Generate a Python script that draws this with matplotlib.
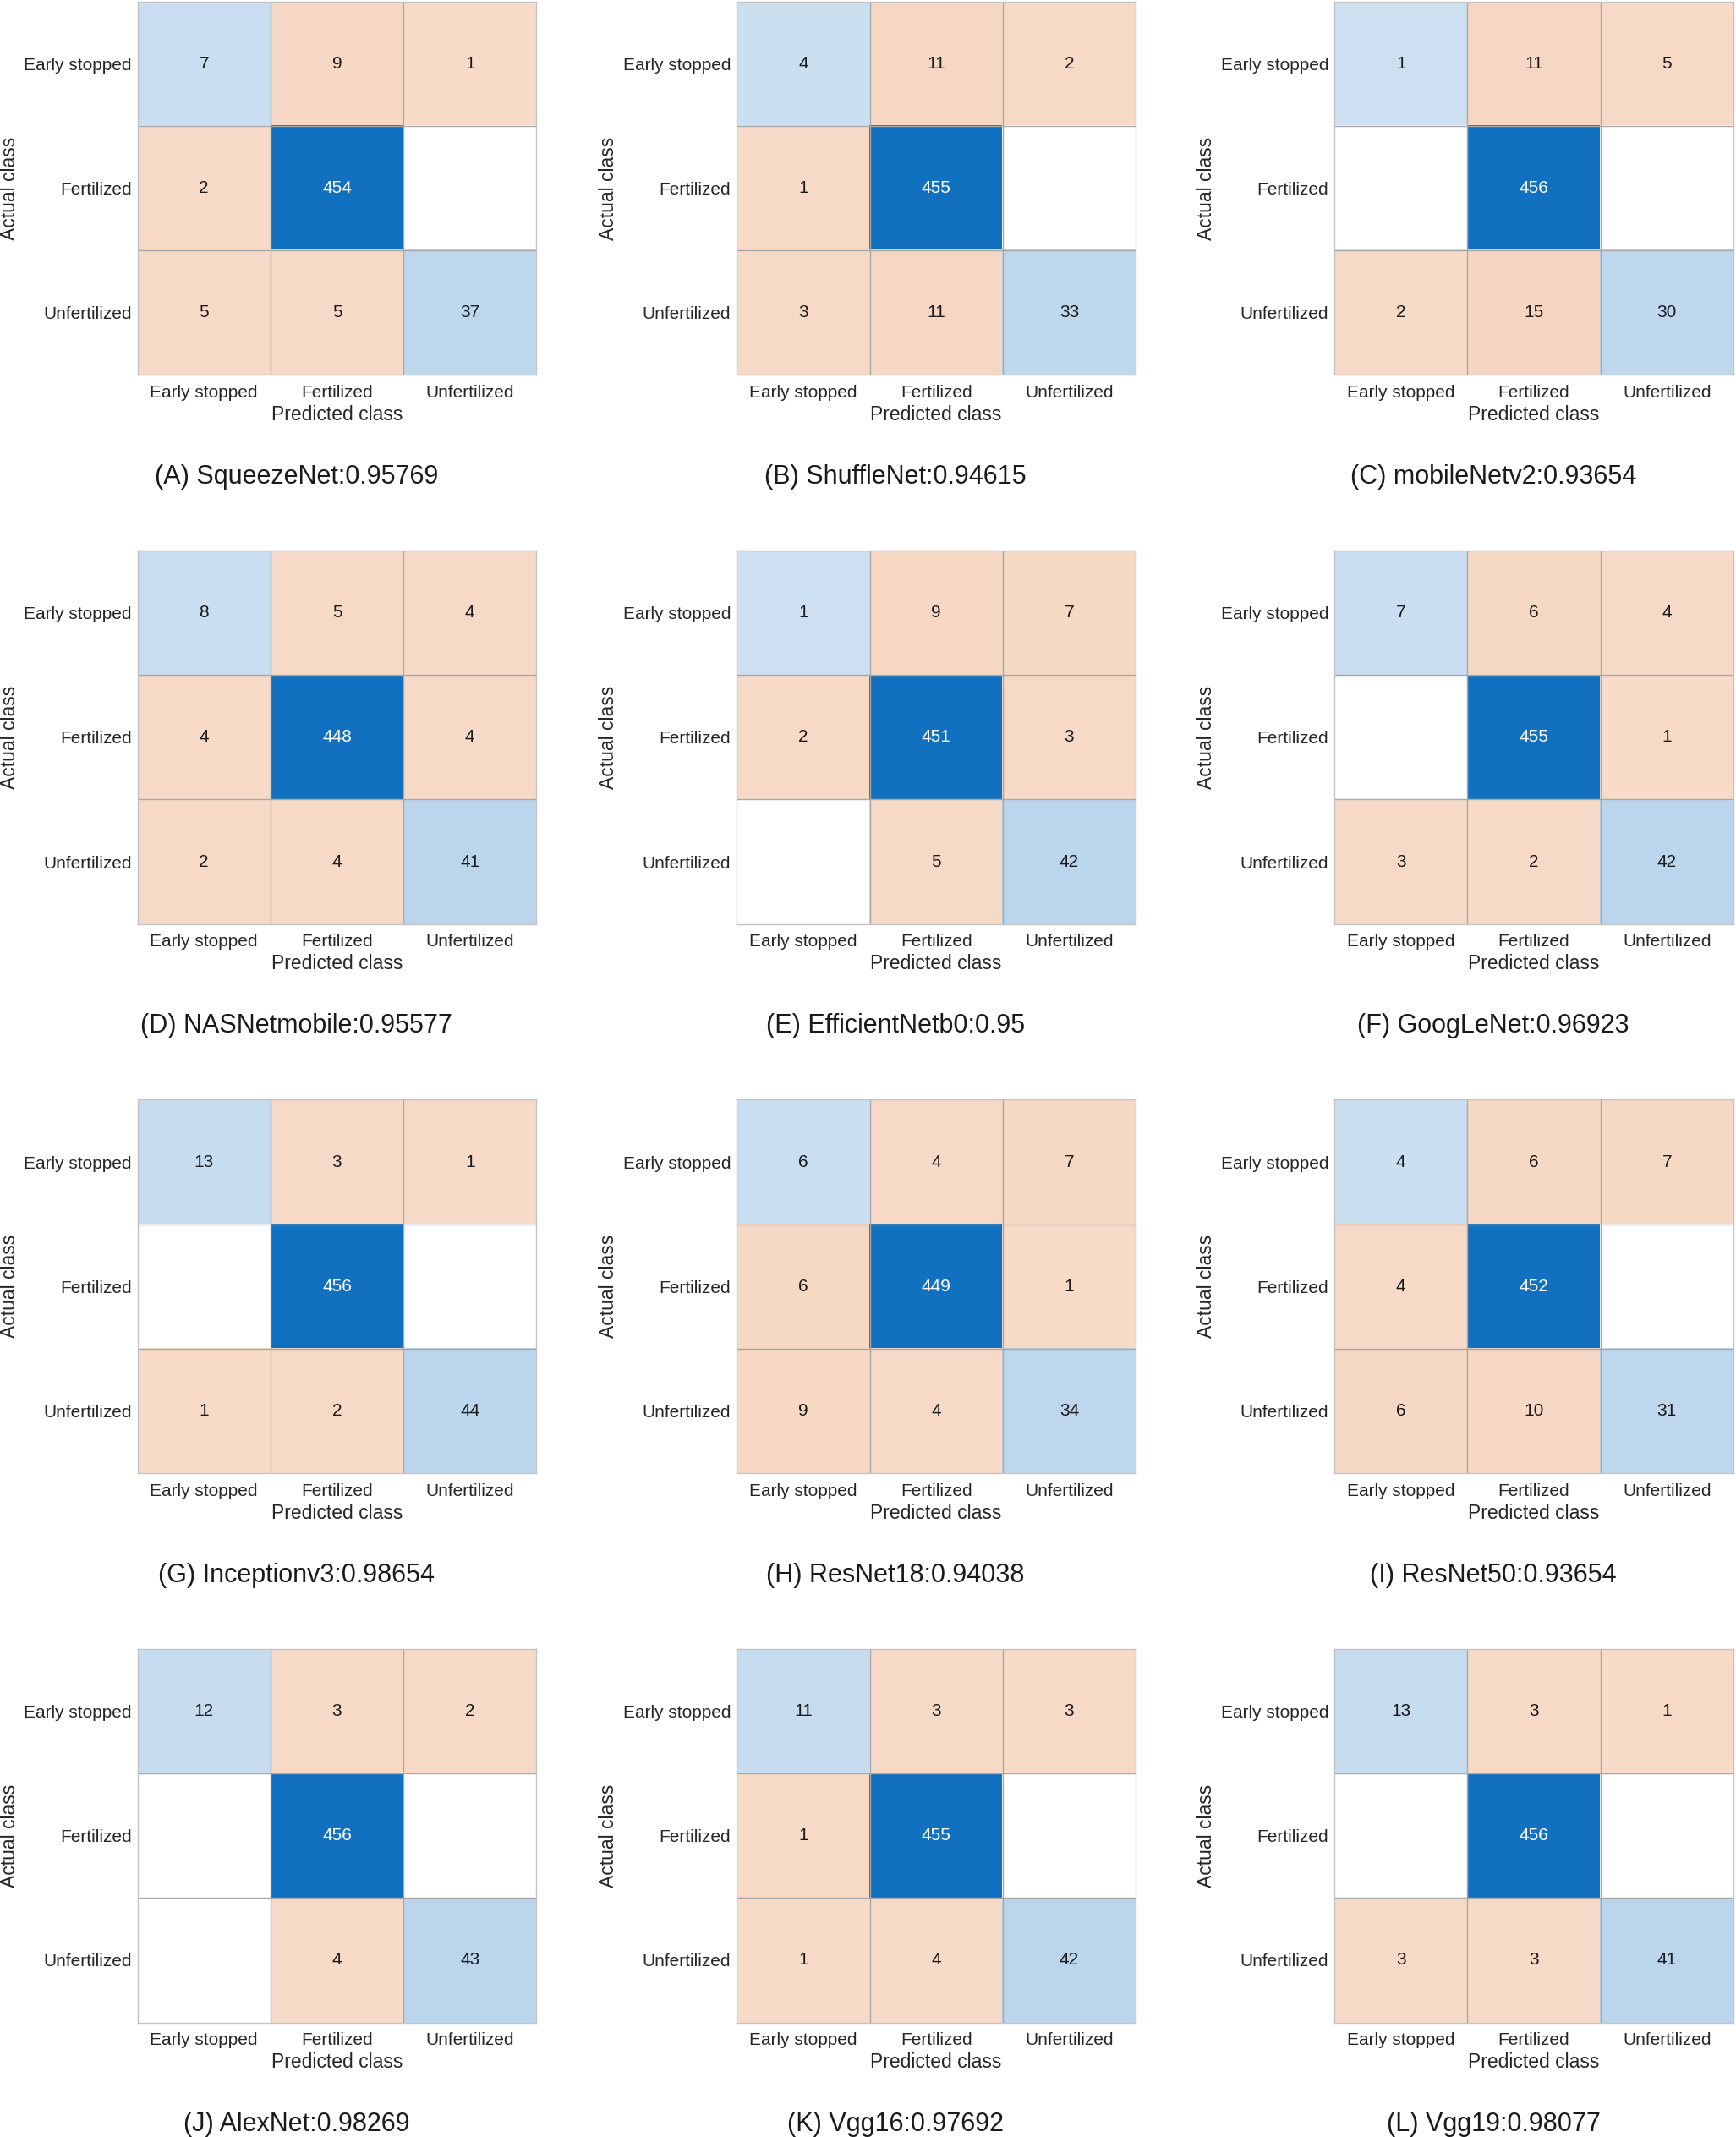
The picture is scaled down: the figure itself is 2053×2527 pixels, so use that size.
import numpy as np
import matplotlib
matplotlib.use("Agg")
import matplotlib.pyplot as plt
from matplotlib.colors import LinearSegmentedColormap

plt.rcParams['font.family'] = ['Liberation Sans', 'DejaVu Sans']

# class names (rows = actual, columns = predicted)
classes = ["Early stopped", "Fertilized", "Unfertilized"]

# confusion matrices
squeezenet = [[7, 9, 1], [2, 454, 0], [5, 5, 37]]
shufflenet = [[4, 11, 2], [1, 455, 0], [3, 11, 33]]
mobilenetv2 = [[1, 11, 5], [0, 456, 0], [2, 15, 30]]
nasnetmobile = [[8, 5, 4], [4, 448, 4], [2, 4, 41]]
efficientnetb0 = [[1, 9, 7], [2, 451, 3], [0, 5, 42]]
googlenet = [[7, 6, 4], [0, 455, 1], [3, 2, 42]]
inceptionv3 = [[13, 3, 1], [0, 456, 0], [1, 2, 44]]
resnet18 = [[6, 4, 7], [6, 449, 1], [9, 4, 34]]
resnet50 = [[4, 6, 7], [4, 452, 0], [6, 10, 31]]
alexnet = [[12, 3, 2], [0, 456, 0], [0, 4, 43]]
vgg16 = [[11, 3, 3], [1, 455, 0], [1, 4, 42]]
vgg19 = [[13, 3, 1], [0, 456, 0], [3, 3, 41]]

matrices = [squeezenet, shufflenet, mobilenetv2, nasnetmobile, efficientnetb0, googlenet,
            inceptionv3, resnet18, resnet50, alexnet, vgg16, vgg19]
model_names = ["SqueezeNet", "ShuffleNet", "mobileNetv2", "NASNetmobile", "EfficientNetb0",
               "GoogLeNet", "Inceptionv3", "ResNet18", "ResNet50", "AlexNet", "Vgg16", "Vgg19"]
accuracies = ["0.95769", "0.94615", "0.93654", "0.95577", "0.95", "0.96923",
              "0.98654", "0.94038", "0.93654", "0.98269", "0.97692", "0.98077"]
letters = "ABCDEFGHIJKL"

# matlab confusionchart-like colours (light tint for small counts -> full colour at max)
diag_cmap = LinearSegmentedColormap.from_list("diag", ["#cce0f1", "#1170bf"])
off_cmap = LinearSegmentedColormap.from_list("off", ["#f7dbc8", "#d95319"])

fig = plt.figure(figsize=(20.53, 25.27), dpi=100)

col_left = [0.0792, 0.4244, 0.7687]
row_bottom = [0.8246, 0.5676, 0.3106, 0.0536]
w, h = 0.2298, 0.1748

for i, m in enumerate(matrices):
    m = np.array(m)
    r, c = divmod(i, 3)
    ax = fig.add_axes([col_left[c], row_bottom[r], w, h])
    vmax = m.max()
    is_diag = np.eye(3, dtype=bool)
    d = np.ma.masked_where(~is_diag | (m == 0), m)
    o = np.ma.masked_where(is_diag | (m == 0), m)
    ax.imshow(d, cmap=diag_cmap, vmin=0, vmax=vmax, aspect='auto')
    ax.imshow(o, cmap=off_cmap, vmin=0, vmax=vmax, aspect='auto')
    ax.set_xlim(-0.5, 2.5)
    ax.set_ylim(2.5, -0.5)
    ax.hlines([0.5, 1.5], -0.5, 2.5, color='#a8a8a8', lw=1)
    ax.vlines([0.5, 1.5], -0.5, 2.5, color='#a8a8a8', lw=1)
    for s in ax.spines.values():
        s.set_color('#c4c4c4')
        s.set_linewidth(1)

    for a in range(3):
        for p in range(3):
            v = m[a, p]
            if v == 0:
                continue
            tc = 'white' if v / vmax > 0.5 else '#1a1a1a'
            ax.text(p, a, str(v), ha='center', va='center', fontsize=15, color=tc)

    ax.set_xticks(range(3))
    ax.set_yticks(range(3))
    ax.set_xticklabels(classes, fontsize=15, color='#262626')
    ax.set_yticklabels(classes, fontsize=15, color='#262626')
    ax.tick_params(axis='x', length=0, pad=8.5)
    ax.tick_params(axis='y', length=0, pad=5)
    ax.set_xlabel("Predicted class", fontsize=16.5, color='#262626', labelpad=3.5)
    ax.set_ylabel("Actual class", fontsize=16.5, color='#262626', labelpad=4)

    fig.text(col_left[c] + w / 2 - 0.0234, row_bottom[r] - 0.0478,
             f"({letters[i]}) {model_names[i]}:{accuracies[i]}",
             ha='center', va='center', fontsize=22, color='#1a1a1a')

fig.savefig("out.png", dpi=100, facecolor='white')
